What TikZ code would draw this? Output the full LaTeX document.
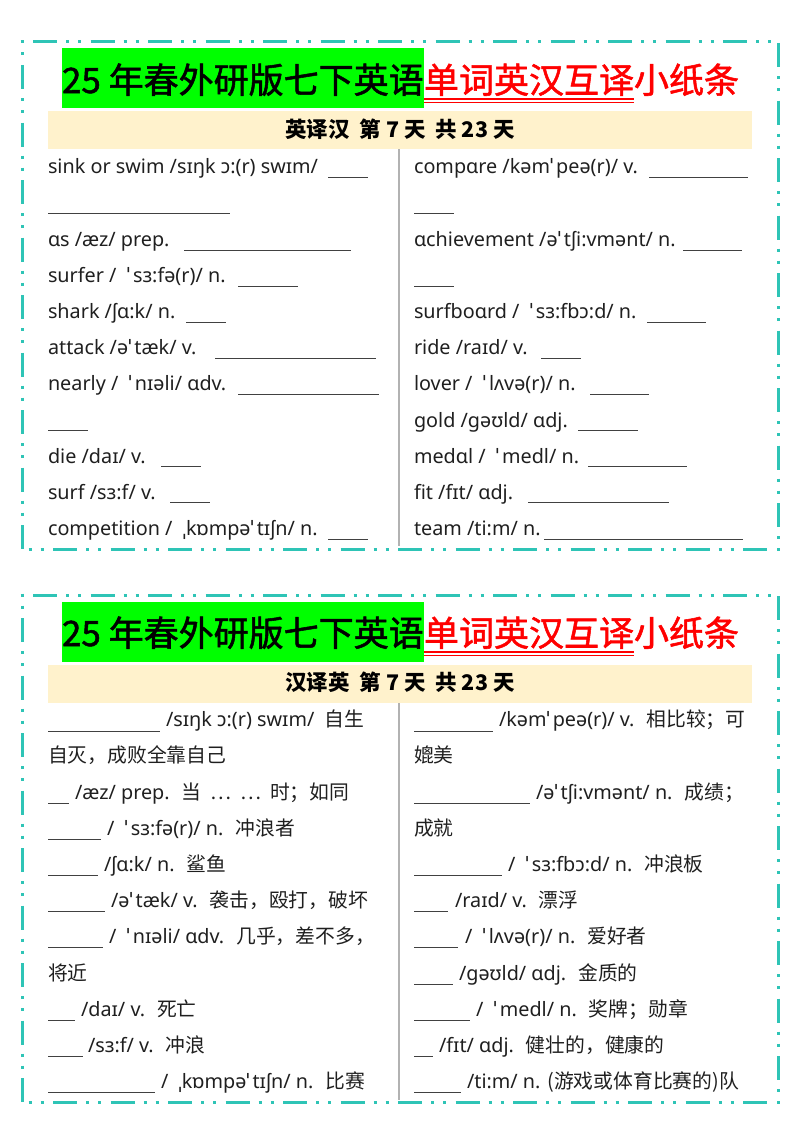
\documentclass[tikz,border=0pt]{standalone}
\usepackage{fontspec}
\setmainfont{Noto Sans}
\newfontfamily\cjk{Noto Sans CJK SC}
\newfontfamily\cjktitle[FakeBold=1.5]{Noto Sans CJK SC}
\newcommand{\zh}[1]{{\cjk #1}}
\newcommand{\stressmark}{ˈ\kern3pt}
\definecolor{frameteal}{HTML}{2EC4B6}
\definecolor{bandcream}{HTML}{FFF2CC}
\definecolor{titlegreen}{HTML}{00FF00}
\definecolor{textgrey}{HTML}{1F1F1F}
\tikzset{
  framepart/.style={frameteal,line width=3pt,dash pattern=on 24pt off 9pt on 3pt off 9pt on 3pt off 9.5pt},
  wordrow/.style={anchor=base west,inner sep=0pt,outer sep=0pt,yshift=-0.7pt,text=textgrey,font=\fontsize{19.8}{20}\selectfont},
  blankline/.style={textgrey!85,line width=0.9pt},
  titletext/.style={anchor=base west,inner sep=0pt,outer sep=0pt,font=\fontsize{35}{35}\selectfont\cjktitle},
  bandtext/.style={anchor=base,inner sep=0pt,outer sep=0pt,font=\fontsize{21.5}{21.5}\selectfont\cjk\bfseries},
  redrule/.style={red,line width=1.5pt},
  midrule/.style={black!30,line width=1.3pt}
}
\begin{document}
\begin{tikzpicture}[x=1pt,y=-1pt]
    \useasboundingbox (0,0) rectangle (800,1132);
    % upper slip
    \draw [framepart,dash phase=45pt] (20.5,42) -- (772,42);
    \draw [framepart,dash phase=33pt] (22,40.5) -- (22,549);
    \draw [framepart,dash phase=33pt] (28.5,549) -- (772,549);
    \draw [framepart] (778,43) -- (778,551);
    \fill [titlegreen] (62,48) rectangle (424,108);
    \fill [bandcream] (48,111) rectangle (752,149);
    \draw [midrule] (399,149) -- (399,546);
    \node [titletext] (titleA) at (62,93) {25 年春外研版七下英语};
    \node [titletext,text=red] (titleredA) at (424,93) {单词英汉互译小纸条};
    \draw [redrule] (424,99) -- (634,99);
    \draw [redrule] (424,102.4) -- (634,102.4);
    \node [bandtext] (bandA) at (400,137.5) {英译汉\ \ 第 7 天\ \ 共 23 天};
    \node [wordrow] (al1) at (48,173) {sink or swim /sɪŋk ɔ:(r) swɪm/};
    \draw [blankline] (328,177) -- (368,177);
    \draw [blankline] (48,213) -- (230,213);
    \node [wordrow] (al3) at (48,245.4) {ɑs /æz/ prep.};
    \draw [blankline] (184,250) -- (351,250);
    \node [wordrow] (al4) at (48,281.6) {surfer / \ \stressmark sɜ:fə(r)/ n.};
    \draw [blankline] (238,286) -- (298,286);
    \node [wordrow] (al5) at (48,317.8) {shark /ʃɑ:k/ n.};
    \draw [blankline] (186,322) -- (226,322);
    \node [wordrow] (al6) at (48,354) {attack /ə\stressmark tæk/ v.};
    \draw [blankline] (215,358) -- (376,358);
    \node [wordrow] (al7) at (48,390.2) {nearly / \ \stressmark nɪəli/ ɑdv.};
    \draw [blankline] (238,394) -- (379,394);
    \draw [blankline] (48,430) -- (88,430);
    \node [wordrow] (al9) at (48,462.6) {die /daɪ/ v.};
    \draw [blankline] (161,466) -- (201,466);
    \node [wordrow] (al10) at (48,498.8) {surf /sɜ:f/ v.};
    \draw [blankline] (170,502) -- (210,502);
    \node [wordrow] (al11) at (48,535) {competition / \ ˌkɒmpə\stressmark tɪʃn/ n.};
    \draw [blankline] (328,539) -- (368,539);
    \node [wordrow] (ar1) at (414,173) {compɑre /kəm\stressmark peə(r)/ v.};
    \draw [blankline] (649,177) -- (748,177);
    \draw [blankline] (414,213) -- (454,213);
    \node [wordrow] (ar3) at (414,245.4) {ɑchievement /ə\stressmark tʃi:vmənt/ n.};
    \draw [blankline] (683,250) -- (742,250);
    \draw [blankline] (414,286) -- (454,286);
    \node [wordrow] (ar5) at (414,317.8) {surfboɑrd / \ \stressmark sɜ:fbɔ:d/ n.};
    \draw [blankline] (647,322) -- (706,322);
    \node [wordrow] (ar6) at (414,354) {ride /raɪd/ v.};
    \draw [blankline] (541,358) -- (581,358);
    \node [wordrow] (ar7) at (414,390.2) {lover / \ \stressmark lʌvə(r)/ n.};
    \draw [blankline] (590,394) -- (649,394);
    \node [wordrow] (ar8) at (414,426.4) {gold /gəʊld/ ɑdj.};
    \draw [blankline] (578,430) -- (638,430);
    \node [wordrow] (ar9) at (414,462.6) {medɑl / \ \stressmark medl/ n.};
    \draw [blankline] (588,466) -- (687,466);
    \node [wordrow] (ar10) at (414,498.8) {fit /fɪt/ ɑdj.};
    \draw [blankline] (528,502) -- (669,502);
    \node [wordrow] (ar11) at (414,535) {team /ti:m/ n.};
    \draw [blankline] (544,539) -- (743,539);
    % lower slip
    \draw [framepart,dash phase=45pt] (20.5,595) -- (772,595);
    \draw [framepart,dash phase=33pt] (22,593.5) -- (22,1102);
    \draw [framepart,dash phase=33pt] (28.5,1102) -- (772,1102);
    \draw [framepart] (778,596) -- (778,1104);
    \fill [titlegreen] (62,602) rectangle (424,662);
    \fill [bandcream] (48,665) rectangle (752,703);
    \draw [midrule] (399,703) -- (399,1100);
    \node [titletext] (titleB) at (62,646) {25 年春外研版七下英语};
    \node [titletext,text=red] (titleredB) at (424,646) {单词英汉互译小纸条};
    \draw [redrule] (424,652) -- (634,652);
    \draw [redrule] (424,655.4) -- (634,655.4);
    \node [bandtext] (bandB) at (400,690.5) {汉译英\ \ 第 7 天\ \ 共 23 天};
    \draw [blankline] (48,731) -- (160,731);
    \node [wordrow] (bl1) at (166,726) {/sɪŋk ɔ:(r) swɪm/ \ \zh{自生}};
    \node [wordrow] (bl2) at (48,762.2) {\zh{自灭，成败全靠自己}};
    \draw [blankline] (48,803) -- (69,803);
    \node [wordrow] (bl3) at (75,798.4) {/æz/ prep. \ \zh{当\ \ ⋯\ \ ⋯\ \ 时；如同}};
    \draw [blankline] (48,839) -- (101,839);
    \node [wordrow] (bl4) at (107,834.6) {/ \ \stressmark sɜ:fə(r)/ n. \ \zh{冲浪者}};
    \draw [blankline] (48,875) -- (98,875);
    \node [wordrow] (bl5) at (104,870.8) {/ʃɑ:k/ n. \ \zh{鲨鱼}};
    \draw [blankline] (48,911) -- (105,911);
    \node [wordrow] (bl6) at (111,907) {/ə\stressmark tæk/ v. \ \zh{袭击，殴打，破坏}};
    \draw [blankline] (48,947) -- (103,947);
    \node [wordrow] (bl7) at (109,943.2) {/ \ \stressmark nɪəli/ ɑdv. \ \zh{几乎，差不多，}};
    \node [wordrow] (bl8) at (48,979.4) {\zh{将近}};
    \draw [blankline] (48,1020) -- (75,1020);
    \node [wordrow] (bl9) at (81,1015.6) {/daɪ/ v. \ \zh{死亡}};
    \draw [blankline] (48,1056) -- (83,1056);
    \node [wordrow] (bl10) at (88,1051.8) {/sɜ:f/ v. \ \zh{冲浪}};
    \draw [blankline] (48,1092) -- (155,1092);
    \node [wordrow] (bl11) at (161,1088) {/ \ ˌkɒmpə\stressmark tɪʃn/ n. \ \zh{比赛}};
    \draw [blankline] (414,731) -- (493,731);
    \node [wordrow] (br1) at (499,726) {/kəm\stressmark peə(r)/ v. \ \zh{相比较；可}};
    \node [wordrow] (br2) at (414,762.2) {\zh{媲美}};
    \draw [blankline] (414,803) -- (530,803);
    \node [wordrow] (br3) at (536,798.4) {/ə\stressmark tʃi:vmənt/ n. \ \zh{成绩；}};
    \node [wordrow] (br4) at (414,834.6) {\zh{成就}};
    \draw [blankline] (414,875) -- (502,875);
    \node [wordrow] (br5) at (508,870.8) {/ \ \stressmark sɜ:fbɔ:d/ n. \ \zh{冲浪板}};
    \draw [blankline] (414,911) -- (448,911);
    \node [wordrow] (br6) at (455,907) {/raɪd/ v. \ \zh{漂浮}};
    \draw [blankline] (414,947) -- (458,947);
    \node [wordrow] (br7) at (465,943.2) {/ \ \stressmark lʌvə(r)/ n. \ \zh{爱好者}};
    \draw [blankline] (414,984) -- (453,984);
    \node [wordrow] (br8) at (459,979.4) {/gəʊld/ ɑdj. \ \zh{金质的}};
    \draw [blankline] (414,1020) -- (470,1020);
    \node [wordrow] (br9) at (476,1015.6) {/ \ \stressmark medl/ n. \ \zh{奖牌；勋章}};
    \draw [blankline] (414,1056) -- (433,1056);
    \node [wordrow] (br10) at (439,1051.8) {/fɪt/ ɑdj. \ \zh{健壮的，健康的}};
    \draw [blankline] (414,1092) -- (461,1092);
    \node [wordrow] (br11) at (467,1088) {/ti:m/ n. \zh{(游戏或体育比赛的)队}};
\end{tikzpicture}
\end{document}
